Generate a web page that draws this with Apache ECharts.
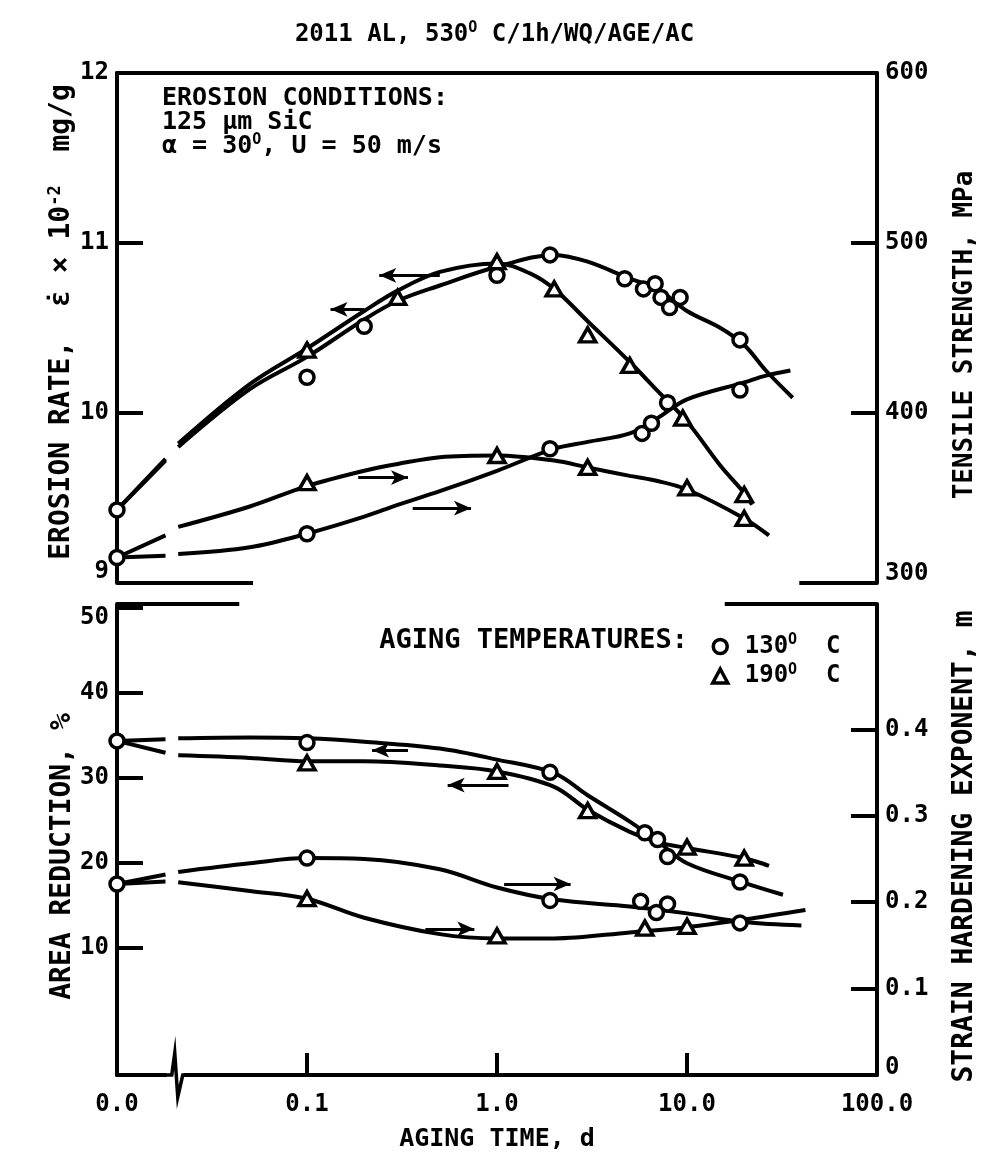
<!DOCTYPE html>
<html><head><meta charset="utf-8">
<script src="https://cdn.jsdelivr.net/npm/echarts@6/dist/echarts.min.js"></script>
<style>html,body{margin:0;padding:0;background:#fff}#c{width:989px;height:1161px}</style>
</head><body><div id="c"></div>
<script>
// ---------- data (aging time in days; t = 0 is drawn at the "0.0" position = 0.01) ----------
const xTickValues = [0.01, 0.1, 1, 10, 100];
const xTickLabels = ['0.0', '0.1', '1.0', '10.0', '100.0'];
const legendNames = ['130° C', '190° C'];

// top panel: erosion rate (x 10^-2 mg/g) and tensile strength (MPa)
const erosion130Curve = [[0.01,9.43],[0.018,9.72],[0.0195,null],[0.021,9.80],[0.05,10.14],[0.1,10.33],[0.2,10.55],[0.3,10.66],[0.5,10.75],[1,10.86],[2,10.93],[3,10.89],[5,10.79],[7,10.73],[10,10.6],[15,10.5],[20,10.4],[26,10.25],[36,10.09]];
const erosion190Curve = [[0.01,9.43],[0.018,9.73],[0.0195,null],[0.021,9.82],[0.05,10.17],[0.1,10.38],[0.2,10.6],[0.3,10.72],[0.5,10.83],[1,10.88],[1.5,10.82],[2,10.73],[3,10.54],[5,10.3],[7,10.13],[10,9.95],[15,9.69],[20,9.53],[22,9.46]];
const tensile130Curve = [[0.01,315],[0.018,316],[0.0195,null],[0.021,317],[0.05,321],[0.1,329],[0.2,339],[0.3,346],[0.5,354],[1,366],[2,379],[3,383],[5,388],[7,397],[10,408],[20,418],[26,422],[35,425]];
const tensile190Curve = [[0.01,315],[0.018,328],[0.0195,null],[0.021,333],[0.05,345],[0.1,357],[0.2,366],[0.3,370],[0.5,374],[1,375],[2,372],[3,368],[5,363],[7,360],[10,355],[20,338],[27,328]];

const erosion130Pts = [[0.01,9.43],[0.1,10.21],[0.2,10.51],[1,10.81],[1.9,10.93],[4.7,10.79],[5.9,10.73],[6.8,10.76],[7.3,10.68],[8.1,10.62],[9.2,10.68],[19,10.43]];
const erosion190Pts = [[0.1,10.37],[0.3,10.68],[1,10.89],[2,10.73],[3,10.46],[5,10.28],[9.5,9.97],[20,9.52]];
const tensile130Pts = [[0.01,315],[0.1,329],[1.9,379],[5.8,388],[6.5,394],[7.9,406],[19,413.5]];
const tensile190Pts = [[0.1,359],[1,375],[3,368],[10,356],[20,338]];

// bottom panel: area reduction (%) and strain hardening exponent m
const area130Curve = [[0.01,34.3],[0.018,34.5],[0.0195,null],[0.021,34.6],[0.05,34.7],[0.1,34.6],[0.2,34.2],[0.5,33.4],[1,32.1],[2,30.5],[3,27.9],[5,24.8],[7,22.5],[10,19.9],[20,17.6],[32,16.2]];
const area190Curve = [[0.01,34.3],[0.018,32.9],[0.0195,null],[0.021,32.6],[0.05,32.3],[0.1,31.9],[0.2,31.9],[0.5,31.4],[1,30.7],[2,28.9],[3,26.2],[5,23.6],[7,22.4],[10,21.7],[20,20.5],[27,19.6]];
const strain130Curve = [[0.01,0.221],[0.018,0.232],[0.0195,null],[0.021,0.235],[0.05,0.245],[0.1,0.251],[0.2,0.25],[0.5,0.238],[1,0.217],[2,0.203],[5,0.195],[10,0.187],[20,0.177],[40,0.173]];
const strain190Curve = [[0.01,0.221],[0.018,0.224],[0.0195,null],[0.021,0.223],[0.05,0.213],[0.1,0.204],[0.2,0.182],[0.5,0.163],[1,0.158],[2,0.158],[5,0.165],[10,0.171],[20,0.18],[42,0.191]];

const area130Pts = [[0.01,34.3],[0.1,34.1],[1.9,30.6],[6,23.5],[7,22.7],[7.9,20.7],[19,17.7]];
const area190Pts = [[0.1,31.7],[1,30.7],[3,26.1],[10,21.8],[20,20.5]];
const strain130Pts = [[0.01,0.221],[0.1,0.251],[1.9,0.202],[5.7,0.201],[6.9,0.188],[7.9,0.198],[19,0.176]];
const strain190Pts = [[0.1,0.204],[1,0.161],[6,0.170],[10,0.172]];

// direction arrows [from, to]
const erosionArrows = [[[0.5,10.81],[0.24,10.81]], [[0.2,10.61],[0.133,10.61]]];
const tensileArrows = [[[0.186,362],[0.34,362]], [[0.36,344],[0.73,344]]];
const areaArrows = [[[0.34,33.2],[0.22,33.2]], [[1.15,29.1],[0.55,29.1]]];
const strainArrows = [[[1.09,0.221],[2.44,0.221]], [[0.42,0.169],[0.76,0.169]]];

// pieces of the broken frame between the panels
const topPanelBottomPieces = [[0.01,0.052],[39,100]];
const bottomPanelTopPieces = [[0.01,0.044],[15.8,100]];

// ---------- styling ----------
const F = "'DejaVu Sans Mono','Liberation Mono',monospace";
const K = '#000';
const LW = 4;
const base = {fontFamily: F, fontWeight: 'bold', color: K};
const supStyle = {fontFamily: F, fontWeight: 'bold', fontSize: 15, color: K, padding: [0,0,12,0]};
const nameStyle = (pad, size) => Object.assign({fontSize: size || 28, padding: pad, rich: {sup: Object.assign({}, supStyle, {fontSize: 17, padding: [0,0,13,0]})}}, base);

function curve(data, xi, yi) {
  return {type: 'line', xAxisIndex: xi, yAxisIndex: yi, data: data, smooth: 0.35, showSymbol: false,
    symbol: 'none', lineStyle: {color: K, width: LW}, connectNulls: false, silent: true, z: 2};
}
function pts(name, data, xi, yi, shape) {
  return {type: 'scatter', name: name, xAxisIndex: xi, yAxisIndex: yi, data: data, symbol: shape,
    symbolSize: shape === 'circle' ? 14 : [16, 14], clip: false,
    itemStyle: {color: '#fff', borderColor: K, borderWidth: 3.5, opacity: 1}, silent: true, z: 4};
}
function arrows(list) {
  return {silent: true, symbol: ['none', 'arrow'], symbolSize: [11, 17], label: {show: false},
    lineStyle: {color: K, width: 3, type: 'solid', opacity: 1},
    data: list.map(a => [{coord: a[0]}, {coord: a[1]}])};
}
function pieces(list, y) {
  return {silent: true, symbol: ['none', 'none'], label: {show: false},
    lineStyle: {color: K, width: LW, type: 'solid', opacity: 1},
    data: list.map(p => [{coord: [p[0], y]}, {coord: [p[1], y]}])};
}
function yAx(o) {
  return Object.assign({
    type: 'value', splitLine: {show: false},
    axisLine: {show: true, onZero: false, lineStyle: {color: K, width: LW}},
    axisTick: {show: true, inside: true, length: 26, lineStyle: {color: K, width: LW}},
    nameLocation: 'middle', nameRotate: 90, nameMoveOverlap: false
  }, o);
}
const lbl = (o) => Object.assign({fontSize: 24, margin: 8}, base, o);

const chart = echarts.init(document.getElementById('c'), null, {renderer: 'canvas'});
const option = {
  backgroundColor: '#fff',
  animation: false,
  title: {
    text: '2011 AL, 530{sup|O} C/1h/WQ/AGE/AC', left: 'center', top: 16,
    textStyle: Object.assign({fontSize: 24, rich: {sup: supStyle}}, base)
  },
  grid: [
    {left: 117, width: 760, top: 73, height: 510},
    {left: 117, width: 760, top: 604, height: 471}
  ],
  xAxis: [
    {gridIndex: 0, type: 'log', logBase: 10, min: 0.01, max: 100, position: 'top',
     axisLine: {show: true, onZero: false, lineStyle: {color: K, width: LW}}, axisTick: {show: false},
     axisLabel: {show: false}, splitLine: {show: false}},
    {gridIndex: 1, type: 'log', logBase: 10, min: 0.01, max: 100, position: 'bottom',
     axisLine: {show: true, onZero: false, lineStyle: {color: K, width: LW}},
     axisTick: {show: true, inside: true, length: 22, lineStyle: {color: K, width: LW}},
     axisLabel: lbl({margin: 18, formatter: v => {
        const i = xTickValues.findIndex(t => Math.abs(Math.log10(t) - Math.log10(v)) < 1e-6);
        return i >= 0 ? xTickLabels[i] : '';
     }}),
     splitLine: {show: false},
     name: 'AGING TIME, d', nameLocation: 'middle', nameGap: 52, nameMoveOverlap: false,
     nameTextStyle: Object.assign({fontSize: 25}, base)}
  ],
  yAxis: [
    yAx({gridIndex: 0, position: 'left', min: 9, max: 12, interval: 1,
      axisLabel: lbl({formatter: v => v === 9 ? '{lo|9}' : String(v),
        rich: {lo: Object.assign({fontSize: 24, padding: [0,0,22,0]}, base)}}),
      name: 'EROSION RATE,  ε̇ × 10{sup|-2}  mg/g', nameGap: 40,
      nameTextStyle: nameStyle([0,0,0,12])}),
    yAx({gridIndex: 0, position: 'right', min: 300, max: 600, interval: 100,
      axisLabel: lbl({formatter: v => v === 300 ? '{lo|300}' : String(v),
        rich: {lo: Object.assign({fontSize: 24, padding: [0,0,18,0]}, base)}}),
      name: 'TENSILE STRENGTH, MPa', nameGap: 75, nameTextStyle: nameStyle([0,14,0,0], 26)}),
    yAx({gridIndex: 1, position: 'left', min: -5, max: 50.4,
      axisTick: {show: true, inside: true, length: 26, customValues: [10,20,30,40,50], lineStyle: {color: K, width: LW}},
      axisLabel: lbl({customValues: [10,20,30,40,50], formatter: v => v === 50 ? '{hi|50}' : String(v),
        rich: {hi: Object.assign({fontSize: 24, padding: [20,0,0,0]}, base)}}),
      name: 'AREA REDUCTION, %', nameGap: 40, nameTextStyle: nameStyle([0,34,0,0])}),
    yAx({gridIndex: 1, position: 'right', min: 0, max: 0.545,
      axisTick: {show: true, inside: true, length: 26, customValues: [0,0.1,0.2,0.3,0.4], lineStyle: {color: K, width: LW}},
      axisLabel: lbl({customValues: [0,0.1,0.2,0.3,0.4], formatter: v => v === 0 ? '{lo|0}' : String(v),
        rich: {lo: Object.assign({fontSize: 24, padding: [0,0,14,0]}, base)}}),
      name: 'STRAIN HARDENING EXPONENT, m', nameGap: 74, nameTextStyle: nameStyle([0,14,0,0])})
  ],
  legend: {
    data: [
      {name: legendNames[0], icon: 'circle', itemStyle: {color: '#fff', borderColor: K, borderWidth: 3.5, opacity: 1}},
      {name: legendNames[1], icon: 'triangle', itemStyle: {color: '#fff', borderColor: K, borderWidth: 3.5, opacity: 1}}
    ],
    orient: 'vertical', left: 706, top: 628, itemWidth: 15, itemHeight: 14, itemGap: 4,
    selectedMode: false,
    formatter: n => n.replace('° ', '{sup|O}  '),
    textStyle: Object.assign({fontSize: 24, padding: [0,0,0,12], rich: {sup: supStyle}}, base)
  },
  graphic: [
    {type: 'text', id: 'cond', left: 162, top: 86, style: {
      text: 'EROSION CONDITIONS:\n125 μm SiC\nα = 30{sup|O}, U = 50 m/s',
      font: 'bold 25px ' + F, fill: K, lineHeight: 24,
      rich: {sup: {font: 'bold 15px ' + F, fill: K, padding: [0,0,12,0]}}}},
    {type: 'text', id: 'agingTitle', right: 989 - 688, top: 627, style: {
      text: 'AGING TEMPERATURES:', font: 'bold 27px ' + F, fill: K}}
  ],
  series: [
    Object.assign(curve(erosion130Curve, 0, 0), {markLine: arrows(erosionArrows)}),
    curve(erosion190Curve, 0, 0),
    Object.assign(curve(tensile130Curve, 0, 1), {markLine: arrows(tensileArrows)}),
    curve(tensile190Curve, 0, 1),
    Object.assign(pts(legendNames[0], erosion130Pts, 0, 0, 'circle'), {markLine: pieces(topPanelBottomPieces, 9)}),
    pts(legendNames[1], erosion190Pts, 0, 0, 'triangle'),
    pts(legendNames[0], tensile130Pts, 0, 1, 'circle'),
    pts(legendNames[1], tensile190Pts, 0, 1, 'triangle'),

    Object.assign(curve(area130Curve, 1, 2), {markLine: arrows(areaArrows)}),
    curve(area190Curve, 1, 2),
    Object.assign(curve(strain130Curve, 1, 3), {markLine: arrows(strainArrows)}),
    curve(strain190Curve, 1, 3),
    Object.assign(pts(legendNames[0], area130Pts, 1, 2, 'circle'), {markLine: pieces(bottomPanelTopPieces, 50.4)}),
    pts(legendNames[1], area190Pts, 1, 2, 'triangle'),
    pts(legendNames[0], strain130Pts, 1, 3, 'circle'),
    pts(legendNames[1], strain190Pts, 1, 3, 'triangle')
  ]
};
chart.setOption(option);

// axis-break mark on the bottom time axis (decoration placed from the axis scale)
const bp = chart.convertToPixel({gridIndex: 1}, [0.0185, -5]);
chart.setOption({graphic: [
  {type: 'line', id: 'breakCover', z: 100, shape: {x1: bp[0] - 1, y1: bp[1], x2: bp[0] + 16, y2: bp[1]},
   style: {stroke: '#fff', lineWidth: 7}},
  {type: 'polyline', id: 'breakMark', z: 101, shape: {points: [[bp[0] - 2, bp[1]], [bp[0] + 4, bp[1]], [bp[0] + 7, bp[1] - 22], [bp[0] + 10, bp[1] + 22], [bp[0] + 15, bp[1]], [bp[0] + 18, bp[1]]]},
   style: {stroke: K, lineWidth: 3.5, fill: null}}
]});
</script></body></html>
